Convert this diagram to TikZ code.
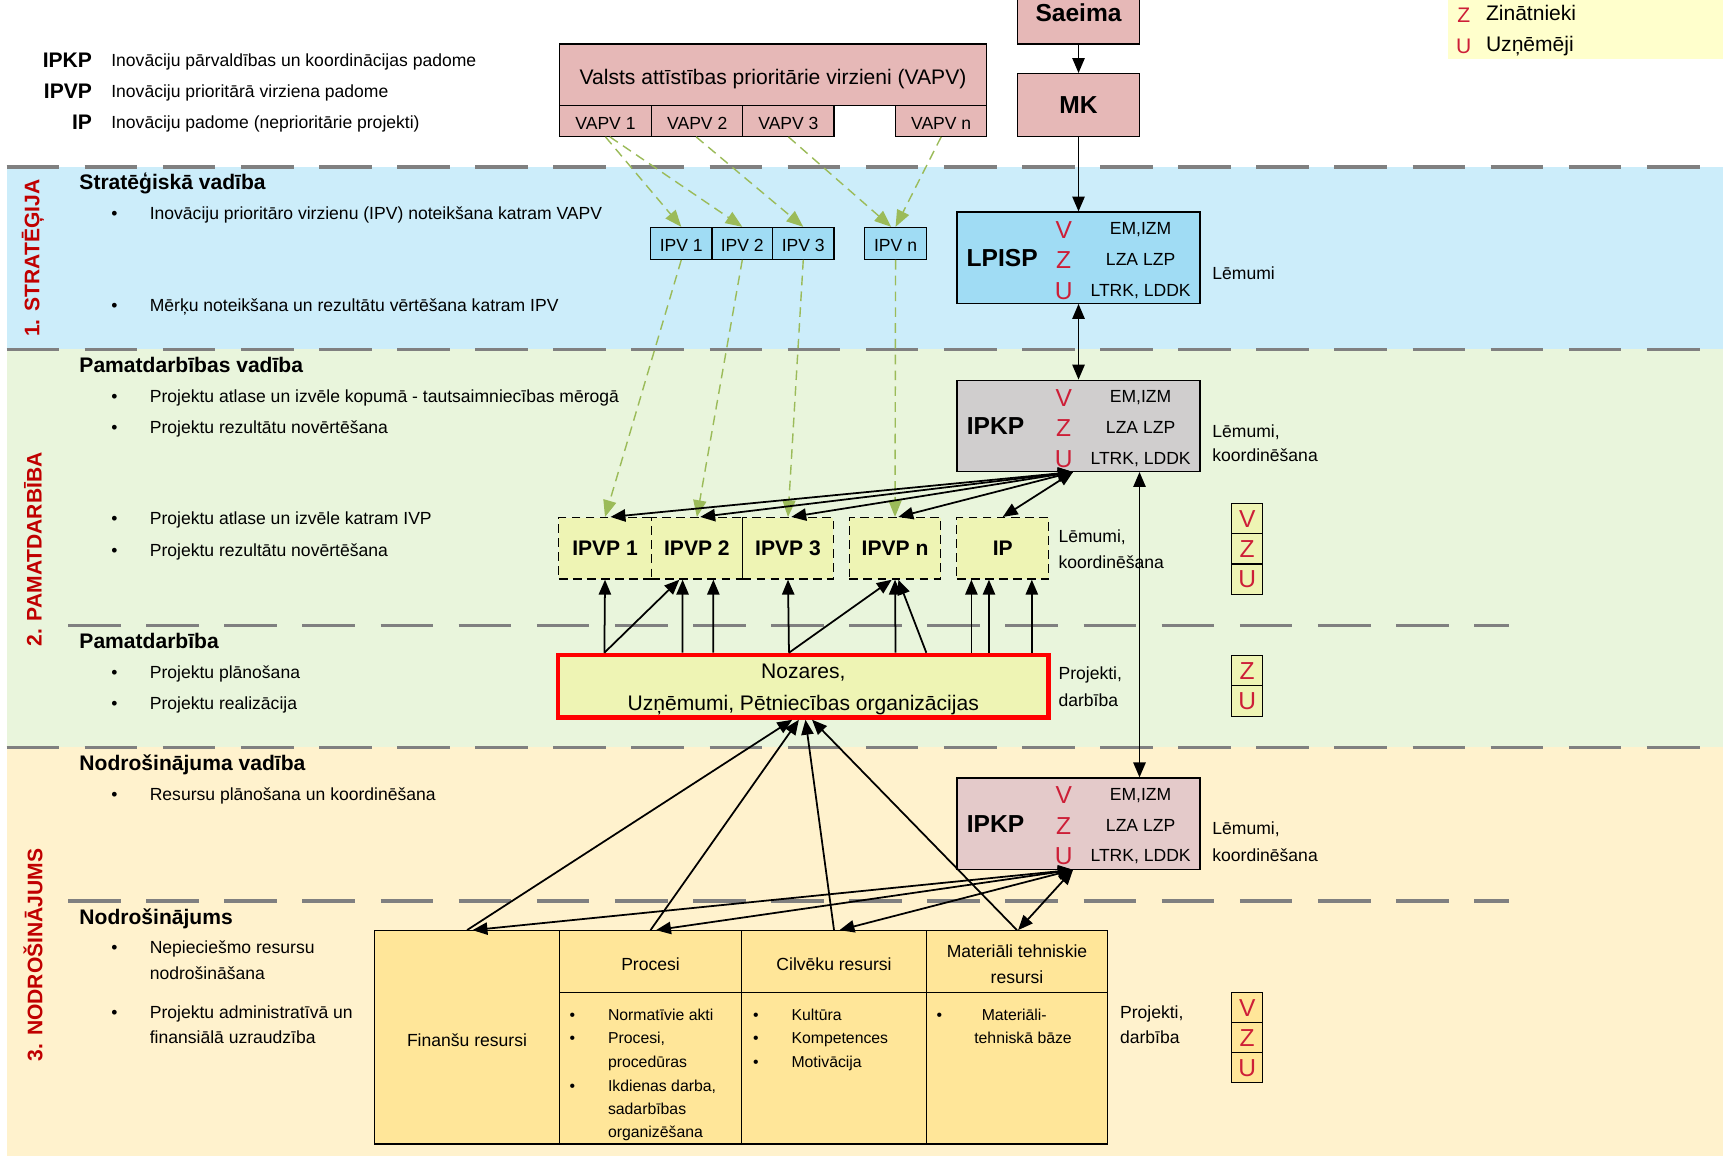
\documentclass[tikz,border=0pt]{standalone}
\usepackage{fontspec}
\setmainfont{Liberation Sans}
\usetikzlibrary{arrows.meta,calc}
\definecolor{bandblue}{RGB}{204,237,250}
\definecolor{bandgreen}{RGB}{233,245,220}
\definecolor{bandyellow}{RGB}{255,242,205}
\definecolor{pinkbox}{RGB}{230,184,183}
\definecolor{bluebox}{RGB}{160,220,244}
\definecolor{graybox}{RGB}{208,206,206}
\definecolor{mauvebox}{RGB}{228,202,202}
\definecolor{limebox}{RGB}{238,244,180}
\definecolor{tablefill}{RGB}{255,230,153}
\definecolor{legendfill}{RGB}{255,255,204}
\definecolor{vzured}{RGB}{205,30,55}
\definecolor{labelred}{RGB}{192,0,0}
\definecolor{greenarrow}{RGB}{155,187,89}
\definecolor{dashgray}{RGB}{128,128,128}
\tikzset{
 sz/.style 2 args={minimum width=#1*0.022cm, minimum height=#2*0.022cm},
 box/.style={draw=black, line width=0.7pt, inner sep=0pt, align=center},
 lowtext/.style={text height=11pt, text depth=1pt},
 pinkb/.style={box, fill=pinkbox, font=\fontsize{10}{12}\selectfont},
 blueb/.style={box, fill=bluebox, font=\fontsize{10}{12}\selectfont, text height=10pt, text depth=1pt},
 ipvpb/.style={box, fill=limebox, dash pattern=on 5pt off 3pt, font=\fontsize{12}{14}\selectfont\bfseries},
 tcell/.style={box, fill=tablefill, font=\fontsize{10}{14.4}\selectfont},
 vzub/.style={box, font=\fontsize{14}{16}\selectfont, text=vzured, sz={28}{27.7}, text height=11pt, text depth=1pt},
 txt/.style={font=\fontsize{10}{12}\selectfont, inner sep=0pt, text height=7.2pt, text depth=2pt, anchor=west, yshift=-1.6pt},
 ctxt/.style={txt, anchor=center},
 stxt/.style={font=\fontsize{9}{11}\selectfont, inner sep=0pt, text height=6.5pt, text depth=1.8pt, anchor=west, yshift=-1.6pt},
 head/.style={font=\fontsize{12}{14}\selectfont\bfseries, inner sep=0pt, text height=8.6pt, text depth=2.5pt, anchor=west, yshift=-1.6pt},
 legb/.style={head, anchor=east},
 bigb/.style={font=\fontsize{14}{16}\selectfont\bfseries, inner sep=0pt},
 redl/.style={font=\fontsize{12}{14}\selectfont, text=vzured, inner sep=0pt, text height=8.6pt, text depth=0pt, yshift=-1pt},
 redb/.style={font=\fontsize{14}{16}\selectfont, text=vzured, inner sep=0pt, text height=10pt, text depth=0pt, yshift=-1pt},
 vlabel/.style={rotate=90, font=\fontsize{12}{14}\selectfont\bfseries, text=labelred, inner sep=0pt},
 sepline/.style={draw=dashgray, line width=1.9pt, dash pattern=on 30pt off 14.5pt},
 garrow/.style={draw=greenarrow, line width=0.8pt, dash pattern=on 5.5pt off 3.5pt, -{Triangle[length=9.5pt,width=7.5pt]}},
 barrow/.style={draw=black, line width=1pt, -{Triangle[length=8.5pt,width=7pt]}},
 bboth/.style={draw=black, line width=1pt, {Triangle[length=8.5pt,width=7pt]}-{Triangle[length=8.5pt,width=7pt]}},
}
\begin{document}
\begin{tikzpicture}[x=0.022cm,y=-0.022cm]
\useasboundingbox (0,0) rectangle (1568,1054);
\fill[white] (0,0) rectangle (1568,1054);
% bands
\fill[bandblue] (6,152) rectangle (1568,318);
\fill[bandgreen] (6,318) rectangle (1568,680);
\fill[bandyellow] (6,680) rectangle (1568,1052);
\fill[legendfill] (1318,0) rectangle (1568,54);
\foreach \yy in {152,318,680} \draw[sepline] (6,\yy) -- (1568,\yy);
\foreach \yy in {569,820} \draw[sepline] (62,\yy) -- (1373,\yy);
% vertical labels
\node[vlabel] (lab1) at (30,235) {1. STRATĒĢIJA};
\node[vlabel] (lab2) at (30,500) {2. PAMATDARBĪBA};
\node[vlabel] (lab3) at (30,869) {3. NODROŠINĀJUMS};
% legend top left
\node[legb] (lgk) at (84,54) {IPKP};
\node[txt] (lgkt) at (101,54) {Inovāciju pārvaldības un koordinācijas padome};
\node[legb] (lgv) at (84,82) {IPVP};
\node[txt] (lgvt) at (101,82) {Inovāciju prioritārā virziena padome};
\node[legb] (lgi) at (84,110) {IP};
\node[txt] (lgit) at (101,110) {Inovāciju padome (neprioritārie projekti)};
% legend top right
\node[redl] (lz) at (1332,12) {Z};
\node[txt, font=\fontsize{12}{14}\selectfont] (lzt) at (1352,12) {Zinātnieki};
\node[redl] (lu) at (1332,40) {U};
\node[txt, font=\fontsize{12}{14}\selectfont] (lut) at (1352,40) {Uzņēmēji};
% top boxes
\node[pinkb, sz={389}{56}, font=\fontsize{12}{14}\selectfont, text height=12pt, text depth=1pt] (vapv) at (703.5,68) {Valsts attīstības prioritārie virzieni (VAPV)};
\node[pinkb, lowtext, sz={84}{28}] (vapv1) at (551,110) {VAPV 1};
\node[pinkb, lowtext, sz={83}{28}] (vapv2) at (634.5,110) {VAPV 2};
\node[pinkb, lowtext, sz={83}{28}] (vapv3) at (717.5,110) {VAPV 3};
\node[pinkb, lowtext, sz={83}{28}] (vapvn) at (856.5,110) {VAPV n};
\node[pinkb, sz={111}{57}, font=\fontsize{14}{16}\selectfont\bfseries] (saeima) at (981.5,11.5) {Saeima};
\node[pinkb, sz={111}{57}, font=\fontsize{14}{16}\selectfont\bfseries] (mk) at (981.5,95.5) {MK};
% band 1 texts
\node[head] (h1) at (72,165) {Stratēģiskā vadība};
\node[txt] (bu1) at (101,193) {\textbullet};
\node[txt] (b1) at (136,193) {Inovāciju prioritāro virzienu (IPV) noteikšana katram VAPV};
\node[txt] (bu2) at (101,277) {\textbullet};
\node[txt] (b2) at (136,277) {Mērķu noteikšana un rezultātu vērtēšana katram IPV};
% IPV boxes
\node[blueb, sz={56}{29}] (ipv1) at (620,221.5) {IPV 1};
\node[blueb, sz={55}{29}] (ipv2) at (675.5,221.5) {IPV 2};
\node[blueb, sz={56}{29}] (ipv3) at (731,221.5) {IPV 3};
\node[blueb, sz={56}{29}] (ipvn) at (815,221.5) {IPV n};
% LPISP
\node[box, fill=bluebox, sz={221}{83}] (lpisp) at (981.5,234.5) {};
\node[bigb] (lpispl) at (912,235) {LPISP};
\node[redb] (lv1) at (968,207) {V};
\node[redb] (lz1) at (968,235) {Z};
\node[redb] (lu1) at (968,263) {U};
\node[ctxt] (lt1) at (1038,207) {EM,IZM};
\node[ctxt] (lt2) at (1038,235) {LZA LZP};
\node[ctxt] (lt3) at (1038,263) {LTRK, LDDK};
\node[txt] (r1) at (1103,248) {Lēmumi};
% band 2 texts
\node[head] (h2) at (72,332) {Pamatdarbības vadība};
\node[txt] (bu3) at (101,360) {\textbullet};
\node[txt] (b3) at (136,360) {Projektu atlase un izvēle kopumā - tautsaimniecības mērogā};
\node[txt] (bu4) at (101,388) {\textbullet};
\node[txt] (b4) at (136,388) {Projektu rezultātu novērtēšana};
\node[txt] (bu5) at (101,471) {\textbullet};
\node[txt] (b5) at (136,471) {Projektu atlase un izvēle katram IVP};
\node[txt] (bu6) at (101,500) {\textbullet};
\node[txt] (b6) at (136,500) {Projektu rezultātu novērtēšana};
\node[head] (h3) at (72,583) {Pamatdarbība};
\node[txt] (bu7) at (101,611) {\textbullet};
\node[txt] (b7) at (136,611) {Projektu plānošana};
\node[txt] (bu8) at (101,639) {\textbullet};
\node[txt] (b8) at (136,639) {Projektu realizācija};
% IPKP band 2
\node[box, fill=graybox, sz={221}{83}] (ipkp2) at (981.5,387.5) {};
\node[bigb] (ipkp2l) at (906,388) {IPKP};
\node[redb] (pv2) at (968,360) {V};
\node[redb] (pz2) at (968,388) {Z};
\node[redb] (pu2) at (968,416) {U};
\node[ctxt] (pt21) at (1038,360) {EM,IZM};
\node[ctxt] (pt22) at (1038,388) {LZA LZP};
\node[ctxt] (pt23) at (1038,416) {LTRK, LDDK};
\node[txt] (r2a) at (1103,391) {Lēmumi,};
\node[txt] (r2b) at (1103,413) {koordinēšana};
% IPVP boxes
\node[ipvpb, sz={84}{56}] (ipvp1) at (550.6,499) {IPVP 1};
\node[ipvpb, sz={83}{56}] (ipvp2) at (634.2,499) {IPVP 2};
\node[ipvpb, sz={82.6}{56}] (ipvp3) at (717.1,499) {IPVP 3};
\node[ipvpb, sz={83}{56}] (ipvpn) at (814.5,499) {IPVP n};
\node[ipvpb, sz={83.6}{56}] (ip) at (912.5,499) {IP};
\node[txt] (r3a) at (963,487) {Lēmumi,};
\node[txt] (r3b) at (963,511) {koordinēšana};
% VZU stacks
\node[vzub, fill=limebox] (sa1) at (1135,472) {V};
\node[vzub, fill=limebox] (sa2) at (1135,499.5) {Z};
\node[vzub, fill=limebox] (sa3) at (1135,527) {U};
\node[vzub, fill=limebox] (sb1) at (1135,610.5) {Z};
\node[vzub, fill=limebox] (sb2) at (1135,638) {U};
\node[vzub, fill=tablefill] (sc1) at (1135,917) {V};
\node[vzub, fill=tablefill] (sc2) at (1135,944.5) {Z};
\node[vzub, fill=tablefill] (sc3) at (1135,971.5) {U};
% Nozares
\node[box, draw=red, line width=2.5pt, fill=limebox, sz={446}{57}] (noz) at (731,624.5) {};
\node[inner sep=0pt, align=center, font=\fontsize{12}{18}\selectfont, yshift=-1.8pt] (nozt) at (noz.center) {Nozares,\\Uzņēmumi, Pētniecības organizācijas};
\node[txt] (r4a) at (963,612) {Projekti,};
\node[txt] (r4b) at (963,636) {darbība};
% band 3 texts
\node[head] (h4) at (72,694) {Nodrošinājuma vadība};
\node[txt] (bu9) at (101,722) {\textbullet};
\node[txt] (b9) at (136,722) {Resursu plānošana un koordinēšana};
\node[head] (h5) at (72,834) {Nodrošinājums};
\node[txt] (bu10) at (101,861) {\textbullet};
\node[txt] (b10a) at (136,861) {Nepieciešmo resursu};
\node[txt] (b10b) at (136,885) {nodrošināšana};
\node[txt] (bu11) at (101,920) {\textbullet};
\node[txt] (b11a) at (136,920) {Projektu administratīvā un};
\node[txt] (b11b) at (136,943) {finansiālā uzraudzība};
% IPKP band 3
\node[box, fill=mauvebox, sz={221}{83}] (ipkp3) at (981.5,749.5) {};
\node[bigb] (ipkp3l) at (906,750) {IPKP};
\node[redb] (pv3) at (968,722) {V};
\node[redb] (pz3) at (968,750) {Z};
\node[redb] (pu3) at (968,777) {U};
\node[ctxt] (pt31) at (1038,722) {EM,IZM};
\node[ctxt] (pt32) at (1038,750) {LZA LZP};
\node[ctxt] (pt33) at (1038,777) {LTRK, LDDK};
\node[txt] (r5a) at (1103,753) {Lēmumi,};
\node[txt] (r5b) at (1103,777) {koordinēšana};
% table
\node[tcell, lowtext, sz={168}{194}] (fin) at (425,944) {Finanšu resursi};
\node[tcell, lowtext, sz={166}{56}] (ph) at (592,875) {Procesi};
\node[tcell, lowtext, sz={168}{56}] (ch) at (759,875) {Cilvēku resursi};
\node[tcell, sz={165}{56}] (mh) at (925.5,875) {};
\node[inner sep=0pt, align=center, font=\fontsize{10}{14.4}\selectfont, yshift=-1.5pt] (mht) at (mh.center) {Materiāli tehniskie\\resursi};
\node[tcell, sz={166}{138}] (pb) at (592,972) {};
\node[tcell, sz={168}{138}] (cb) at (759,972) {};
\node[tcell, sz={165}{138}] (mb) at (925.5,972) {};
\node[stxt] (pbu1) at (518,922) {\textbullet};
\node[stxt] (pb1) at (553,922) {Normatīvie akti};
\node[stxt] (pbu2) at (518,943) {\textbullet};
\node[stxt] (pb2) at (553,943) {Procesi,};
\node[stxt] (pb3) at (553,965) {procedūras};
\node[stxt] (pbu4) at (518,987) {\textbullet};
\node[stxt] (pb4) at (553,987) {Ikdienas darba,};
\node[stxt] (pb5) at (553,1008) {sadarbības};
\node[stxt] (pb6) at (553,1029) {organizēšana};
\node[stxt] (cbu1) at (685,922) {\textbullet};
\node[stxt] (cb1) at (720,922) {Kultūra};
\node[stxt] (cbu2) at (685,943) {\textbullet};
\node[stxt] (cb2) at (720,943) {Kompetences};
\node[stxt] (cbu3) at (685,965) {\textbullet};
\node[stxt] (cb3) at (720,965) {Motivācija};
\node[stxt] (mbu1) at (852,922) {\textbullet};
\node[stxt, anchor=center] (mb1) at (923,922) {Materiāli-};
\node[stxt, anchor=center] (mb2) at (931,943) {tehniskā bāze};
\node[txt] (r6a) at (1019,920) {Projekti,};
\node[txt] (r6b) at (1019,943) {darbība};
% green dashed arrows
\draw[garrow] (vapv1.south) -- (ipv1.north);
\draw[garrow] ($(vapv1.south)+(4,0)$) -- (ipv2.north);
\draw[garrow] ($(vapv2.south)+(-1,0)$) -- (ipv3.north);
\draw[garrow] (vapv3.south) -- ($(ipvn.north)+(-4,0)$);
\draw[garrow] (vapvn.south) -- (ipvn.north);
\draw[garrow] (ipv1.south) -- (ipvp1.north);
\draw[garrow] (ipv2.south) -- (ipvp2.north);
\draw[garrow] (ipv3.south) -- (ipvp3.north);
\draw[garrow] (ipvn.south) -- (ipvpn.north);
% black vertical chain
\draw[barrow] (saeima.south) -- (mk.north);
\draw[barrow] (mk.south) -- (lpisp.north);
\draw[bboth] (lpisp.south) -- (ipkp2.north);
\draw[bboth] ($(ipkp2.south)+(55.5,0)$) -- ($(ipkp3.north)+(55.5,0)$);
% IPKP2 hub
\coordinate (hub2) at ($(ipkp2.south)+(-5,0)$);
\draw[bboth] (hub2) -- ($(ipvp1.north)+(5,0)$);
\draw[bboth] (hub2) -- ($(ipvp2.north)+(3,0)$);
\draw[bboth] (hub2) -- ($(ipvp3.north)+(3,0)$);
\draw[bboth] (hub2) -- ($(ipvpn.north)+(3,0)$);
\draw[bboth] (hub2) -- (ip.north);
% Nozares to IPVP
\draw[barrow] ($(noz.north)+(-181,0)$) -- (ipvp1.south);
\draw[barrow] ($(noz.north)+(-181,0)$) -- ($(ipvp2.south)+(-16,0)$);
\draw[barrow] ($(noz.north)+(-110,0)$) -- ($(ipvp2.south)+(-13,0)$);
\draw[barrow] ($(noz.north)+(-82,0)$) -- ($(ipvp2.south)+(15,0)$);
\draw[barrow] ($(noz.north)+(-13,0)$) -- (ipvp3.south);
\draw[barrow] ($(noz.north)+(-13,0)$) -- ($(ipvpn.south)+(-3,0)$);
\draw[barrow] ($(noz.north)+(84,0)$) -- (ipvpn.south);
\draw[barrow] ($(noz.north)+(112,0)$) -- ($(ipvpn.south)+(3,0)$);
\draw[barrow] ($(noz.north)+(153,0)$) -- ($(ip.south)+(-28.5,0)$);
\draw[barrow] ($(noz.north)+(169,0)$) -- ($(ip.south)+(-12.5,0)$);
\draw[barrow] ($(noz.north)+(208,0)$) -- ($(ip.south)+(26.5,0)$);
% table to Nozares
\draw[barrow] (fin.north) -- ($(noz.south)+(-10,0)$);
\draw[barrow] (ph.north) -- ($(noz.south)+(-4,0)$);
\draw[barrow] (ch.north) -- ($(noz.south)+(2,0)$);
\draw[barrow] (mh.north) -- ($(noz.south)+(8,0)$);
% IPKP3 hub
\coordinate (hub3) at ($(ipkp3.south)+(-5,0)$);
\draw[bboth] (hub3) -- ($(fin.north)+(5,0)$);
\draw[bboth] (hub3) -- ($(ph.north)+(5,0)$);
\draw[bboth] (hub3) -- ($(ch.north)+(5,0)$);
\draw[bboth] (hub3) -- ($(mh.north)+(1,0)$);
\end{tikzpicture}
\end{document}
